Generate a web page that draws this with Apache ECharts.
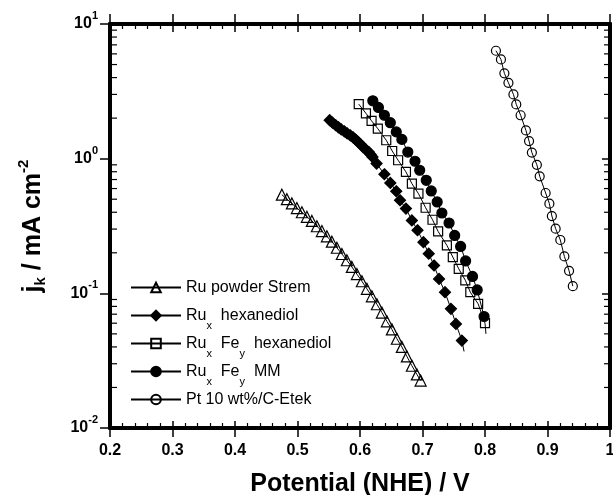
<!DOCTYPE html>
<html>
<head>
<meta charset="utf-8">
<script src="https://cdn.jsdelivr.net/npm/echarts@6/dist/echarts.min.js"></script>
<style>
html, body { margin: 0; padding: 0; background: #fff; }
#chart { width: 613px; height: 495px; }
</style>
</head>
<body>
<div id="chart"></div>
<script>
// potential (V vs NHE) and kinetic current (mA cm-2)
var ruStremV = [0.475,0.483,0.491,0.499,0.507,0.515,0.523,0.531,0.539,0.547,0.555,0.563,0.571,0.579,0.587,0.595,0.603,0.611,0.619,0.627,0.635,0.643,0.651,0.659,0.667,0.675,0.683,0.691,0.697];
var ruStremJ = [0.54,0.50,0.465,0.43,0.40,0.37,0.345,0.315,0.29,0.265,0.242,0.218,0.196,0.176,0.157,0.139,0.123,0.108,0.095,0.083,0.072,0.062,0.054,0.046,0.040,0.034,0.029,0.025,0.0225];

var ruxHexV = [0.5515,0.556,0.561,0.5655,0.570,0.575,0.5795,0.5845,0.589,0.593,0.597,0.601,0.605,0.609,0.614,0.617,0.620,0.6265,0.639,0.6485,0.658,0.664,0.6735,0.683,0.692,0.7015,0.710,0.7185,0.7265,0.736,0.7455,0.7535,0.763,0.7665];
var ruxHexJ = [1.93,1.85,1.77,1.71,1.65,1.595,1.54,1.49,1.44,1.385,1.33,1.275,1.22,1.17,1.12,1.075,1.03,0.92,0.766,0.66,0.573,0.491,0.426,0.348,0.294,0.240,0.197,0.161,0.128,0.102,0.0767,0.0593,0.0446,0.037];

var ruFeHexV = [0.598,0.6095,0.6185,0.6285,0.642,0.6515,0.661,0.6735,0.683,0.6935,0.705,0.716,0.725,0.739,0.7485,0.758,0.7685,0.7765,0.789,0.800,0.8015];
var ruFeHexJ = [2.54,2.17,1.91,1.67,1.37,1.14,0.973,0.797,0.653,0.550,0.432,0.352,0.288,0.227,0.186,0.152,0.125,0.102,0.0836,0.060,0.050];

var ruFeMmV = [0.6205,0.6295,0.639,0.6485,0.658,0.667,0.6765,0.688,0.6955,0.706,0.714,0.7235,0.731,0.7425,0.7515,0.761,0.769,0.780,0.7875,0.7985];
var ruFeMmJ = [2.69,2.40,2.10,1.85,1.58,1.39,1.12,0.957,0.820,0.691,0.576,0.477,0.395,0.333,0.269,0.223,0.174,0.1335,0.106,0.0673];

var ptV = [0.8175,0.8255,0.831,0.8375,0.8455,0.850,0.857,0.8655,0.8705,0.875,0.883,0.8875,0.897,0.903,0.907,0.913,0.9205,0.927,0.9345,0.9405];
var ptJ = [6.33,5.46,4.30,3.66,3.00,2.53,2.10,1.62,1.35,1.11,0.90,0.74,0.556,0.463,0.375,0.302,0.249,0.188,0.147,0.113];

var names = ['Ru powder Strem', 'Rux hexanediol', 'RuxFey hexanediol', 'RuxFey MM', 'Pt 10 wt%/C-Etek'];
// every label ends with a subscript token so all legend rows get the same height
var legendText = {
    'Ru powder Strem': '{n|Ru powder Strem}{s| }',
    'Rux hexanediol': '{n|Ru}{s|x}{n|  hexanediol}',
    'RuxFey hexanediol': '{n|Ru}{s|x}{n|  Fe}{s|y}{n|  hexanediol}',
    'RuxFey MM': '{n|Ru}{s|x}{n|  Fe}{s|y}{n|  MM}',
    'Pt 10 wt%/C-Etek': '{n|Pt 10 wt%/C-Etek}{s| }'
};
// last point of these curves is the line only, no marker
var lineTail = [false, true, true, false, false];

var yMinor = [0.02,0.03,0.04,0.05,0.06,0.07,0.08,0.09,0.2,0.3,0.4,0.5,0.6,0.7,0.8,0.9,2,3,4,5,6,7,8,9];

var font = 'Liberation Sans, Arial, Helvetica, sans-serif';

function pairs(xs, ys, tail) {
    return xs.map(function (x, i) {
        if (tail && i === xs.length - 1) {
            return { value: [x, ys[i]], symbol: 'none' };
        }
        return [x, ys[i]];
    });
}

var chart = echarts.init(document.getElementById('chart'));

var xBase = { type: 'value', min: 0.2, max: 1.0, interval: 0.1, splitLine: { show: false } };
function xAxis(pos, inside, len, minor, labels) {
    return Object.assign({}, xBase, {
        position: pos,
        axisLine: { show: true, lineStyle: { color: '#000', width: 4 } },
        axisTick: { show: true, inside: inside, length: len, lineStyle: { color: '#000', width: 1.5 } },
        minorTick: { show: minor, splitNumber: 5, length: 5, lineStyle: { color: '#000', width: 1.2 } },
        axisLabel: labels ? {
            show: true, margin: 15, color: '#000', fontSize: 16, fontWeight: 'bold', fontFamily: font,
            formatter: function (v) { return String(Math.round(v * 10) / 10); }
        } : { show: false },
        name: labels ? 'Potential (NHE) / V' : '',
        nameLocation: 'middle',
        nameGap: 44,
        nameTextStyle: { color: '#000', fontSize: 25, fontWeight: 'bold', fontFamily: font }
    });
}

var symbols = ['triangle', 'diamond', 'rect', 'circle', 'circle'];
var sizes = [11, 11, 9, 10, 9];
var fills = ['transparent', '#000', 'transparent', '#000', 'transparent'];
var datasets = [
    pairs(ruStremV, ruStremJ, lineTail[0]),
    pairs(ruxHexV, ruxHexJ, lineTail[1]),
    pairs(ruFeHexV, ruFeHexJ, lineTail[2]),
    pairs(ruFeMmV, ruFeMmJ, lineTail[3]),
    pairs(ptV, ptJ, lineTail[4])
];

var series = names.map(function (n, i) {
    return {
        name: n,
        type: 'line',
        data: datasets[i],
        symbol: symbols[i],
        symbolSize: sizes[i],
        showAllSymbol: true,
        itemStyle: { color: fills[i], borderColor: '#000', borderWidth: 1.2 },
        lineStyle: { color: '#000', width: 1 },
        z: 3
    };
});

// log minor ticks on both y axes
series.push({
    type: 'custom',
    name: 'ticks',
    silent: true,
    clip: false,
    data: yMinor.map(function (v) { return [0.2, v]; }),
    renderItem: function (params, api) {
        var l = api.coord([0.2, api.value(1)]);
        var r = api.coord([1.0, api.value(1)]);
        var st = { stroke: '#000', lineWidth: 1.2 };
        return {
            type: 'group',
            children: [
                { type: 'line', shape: { x1: l[0], y1: l[1], x2: l[0] + 7, y2: l[1] }, style: st },
                { type: 'line', shape: { x1: r[0], y1: r[1], x2: r[0] - 6, y2: r[1] }, style: st }
            ]
        };
    },
    z: 2
});

var option = {
    animation: false,
    backgroundColor: '#fff',
    grid: { left: 110, right: 3, top: 24, bottom: 67, outerBoundsMode: 'none', containLabel: false },
    legend: {
        orient: 'vertical',
        left: 130,
        top: 272,
        padding: 0,
        itemWidth: 50,
        itemHeight: 12,
        itemGap: -3,
        data: names,
        selectedMode: false,
        formatter: function (n) { return legendText[n]; },
        textStyle: {
            color: '#000',
            fontFamily: font,
            rich: {
                n: { fontSize: 16, lineHeight: 20, color: '#000', fontFamily: font },
                s: { fontSize: 11, lineHeight: 20, padding: [20, 0, 0, 0], color: '#000', fontFamily: font }
            }
        }
    },
    xAxis: [
        xAxis('bottom', false, 9, false, true),
        xAxis('bottom', true, 7, true, false),
        xAxis('top', false, 10, false, false),
        xAxis('top', true, 8, true, false)
    ],
    yAxis: [
        {
            type: 'log', logBase: 10, min: 0.01, max: 10, position: 'left',
            splitLine: { show: false },
            axisLine: { show: true, lineStyle: { color: '#000', width: 4 } },
            axisTick: { show: true, inside: false, length: 10, lineStyle: { color: '#000', width: 1.5 } },
            axisLabel: {
                margin: 12,
                formatter: function (v) {
                    var e = Math.round(Math.log(v) / Math.LN10);
                    return '{b|10}{p|' + e + '}';
                },
                rich: {
                    b: { fontSize: 16, fontWeight: 'bold', color: '#000', fontFamily: font, lineHeight: 18 },
                    p: { fontSize: 11, fontWeight: 'bold', color: '#000', fontFamily: font, lineHeight: 18, padding: [0, 0, 16, 0] }
                }
            },
            name: '{t|j}{k|k}{t| / mA cm}{e|-2}',
            nameLocation: 'middle',
            nameRotate: 90,
            nameGap: 62,
            nameTextStyle: {
                rich: {
                    t: { fontSize: 25, fontWeight: 'bold', color: '#000', fontFamily: font, lineHeight: 30 },
                    k: { fontSize: 15, fontWeight: 'bold', color: '#000', fontFamily: font, lineHeight: 30, padding: [16, 0, 0, 0] },
                    e: { fontSize: 15, fontWeight: 'bold', color: '#000', fontFamily: font, lineHeight: 30, padding: [0, 0, 18, 0] }
                }
            }
        },
        {
            type: 'log', logBase: 10, min: 0.01, max: 10, position: 'right',
            splitLine: { show: false },
            axisLine: { show: true, lineStyle: { color: '#000', width: 4 } },
            axisTick: { show: true, inside: true, length: 8, lineStyle: { color: '#000', width: 1.5 } },
            axisLabel: { show: false }
        }
    ],
    series: series
};

chart.setOption(option);
</script>
</body>
</html>
